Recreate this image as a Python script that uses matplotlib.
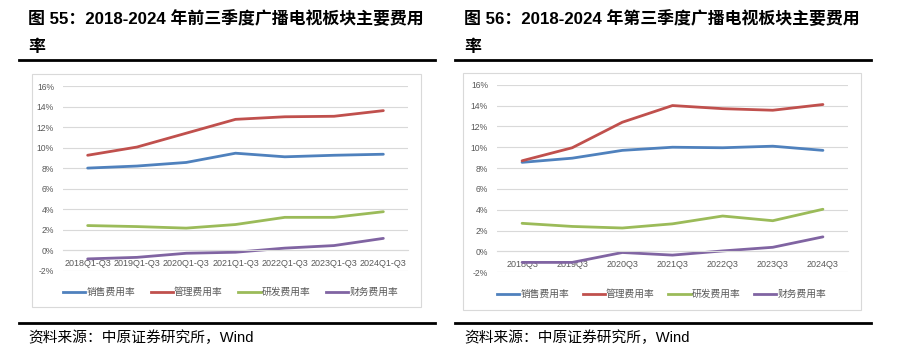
import matplotlib.pyplot as plt
from matplotlib.patches import Rectangle
from matplotlib.lines import Line2D
from matplotlib.ticker import FuncFormatter

# data (percent)
cats_left = ['2018Q1-Q3', '2019Q1-Q3', '2020Q1-Q3', '2021Q1-Q3', '2022Q1-Q3', '2023Q1-Q3', '2024Q1-Q3']
sales_left = [8.0, 8.2, 8.55, 9.45, 9.1, 9.25, 9.35]
admin_left = [9.25, 10.05, 11.4, 12.75, 13.0, 13.05, 13.6]
rnd_left = [2.4, 2.3, 2.15, 2.5, 3.2, 3.2, 3.75]
fin_left = [-0.85, -0.7, -0.3, -0.2, 0.2, 0.45, 1.15]

cats_right = ['2018Q3', '2019Q3', '2020Q3', '2021Q3', '2022Q3', '2023Q3', '2024Q3']
sales_right = [8.55, 8.95, 9.7, 10.0, 9.95, 10.1, 9.7]
admin_right = [8.7, 9.95, 12.4, 14.0, 13.7, 13.55, 14.1]
rnd_right = [2.7, 2.4, 2.25, 2.65, 3.4, 2.95, 4.05]
fin_right = [-1.05, -1.05, -0.1, -0.35, 0.05, 0.4, 1.4]

series_names = ['销售费用率', '管理费用率', '研发费用率', '财务费用率']
colors = ['#4F81BD', '#C0504D', '#9BBB59', '#8064A2']

title_left = '图 55：2018-2024 年前三季度广播电视板块主要费用\n率'
title_right = '图 56：2018-2024 年第三季度广播电视板块主要费用\n率'
source = '资料来源：中原证券研究所，Wind'

fam = ['Liberation Sans', 'Noto Sans CJK SC', 'DejaVu Sans']
plt.rcParams['font.family'] = fam

fig = plt.figure(figsize=(9.01, 3.56), dpi=100)
W, H = 901.0, 356.0


def px(x0, y0, x1, y1):
    # pixel box (top-left origin) -> figure fraction rect
    return [x0 / W, 1 - y1 / H, (x1 - x0) / W, (y1 - y0) / H]


def panel(plot_box, frame_box, rule_x, title, cats, data, legend_y, colsp):
    x0, y0, x1, y1 = frame_box
    fig.patches.append(Rectangle((x0 / W, 1 - y1 / H), (x1 - x0) / W, (y1 - y0) / H,
                                 transform=fig.transFigure, fill=False,
                                 edgecolor='#D9D9D9', linewidth=0.8))
    ax = fig.add_axes(px(*plot_box))
    xs = list(range(len(cats)))
    for vals, c, name in zip(data, colors, series_names):
        ax.plot(xs, vals, color=c, linewidth=2.0, label=name,
                solid_capstyle='round')
    ax.set_xlim(-0.5, len(cats) - 0.5)
    ax.set_ylim(-2, 16)
    ax.set_yticks(range(-2, 17, 2))
    ax.yaxis.set_major_formatter(FuncFormatter(lambda v, p: '%d%%' % v))
    ax.grid(axis='y', color='#D9D9D9', linewidth=0.8)
    ax.set_axisbelow(True)
    for s in ['top', 'right', 'left']:
        ax.spines[s].set_visible(False)
    ax.spines['bottom'].set_position(('data', 0))
    ax.spines['bottom'].set_color('#D9D9D9')
    ax.spines['bottom'].set_linewidth(0.8)
    ax.set_xticks(xs)
    ax.set_xticklabels(cats)
    ax.tick_params(axis='x', length=0, labelsize=6.5, labelcolor='#595959', pad=6)
    ax.tick_params(axis='y', length=0, labelsize=6.2, labelcolor='#595959', pad=6.5)
    handles = [Line2D([], [], color=c, linewidth=2.0) for c in colors]
    ax.legend(handles, series_names, loc='center left', ncol=4, frameon=False,
              bbox_to_anchor=(0.0, legend_y), handlelength=2.3, handletextpad=0.1,
              columnspacing=colsp, prop={'family': fam, 'size': 7},
              labelcolor='#595959', borderaxespad=0, borderpad=0)

    rx0, rx1 = rule_x
    fig.add_artist(Line2D([rx0 / W, rx1 / W], [1 - 60 / H, 1 - 60 / H], color='black',
                          linewidth=2.0, transform=fig.transFigure))
    fig.add_artist(Line2D([rx0 / W, rx1 / W], [1 - 323 / H, 1 - 323 / H], color='black',
                          linewidth=2.0, transform=fig.transFigure))
    fig.text((rx0 + 9) / W, 1 - 10 / H, title, fontsize=12.2, fontweight='bold',
             va='top', ha='left', linespacing=2.0, family=fam)
    fig.text((rx0 + 9) / W, 1 - 338 / H, source, fontsize=10.6, va='center',
             ha='left', family=fam)
    return ax


panel((63, 86, 408, 270.7), (32, 74, 421, 307), (19, 435), title_left, cats_left,
      [sales_left, admin_left, rnd_left, fin_left], -0.115, 1.6)
panel((497, 84.7, 848, 272.3), (463, 73, 861, 310), (455, 871), title_right, cats_right,
      [sales_right, admin_right, rnd_right, fin_right], -0.116, 1.4)

fig.savefig('out.png', dpi=100)
